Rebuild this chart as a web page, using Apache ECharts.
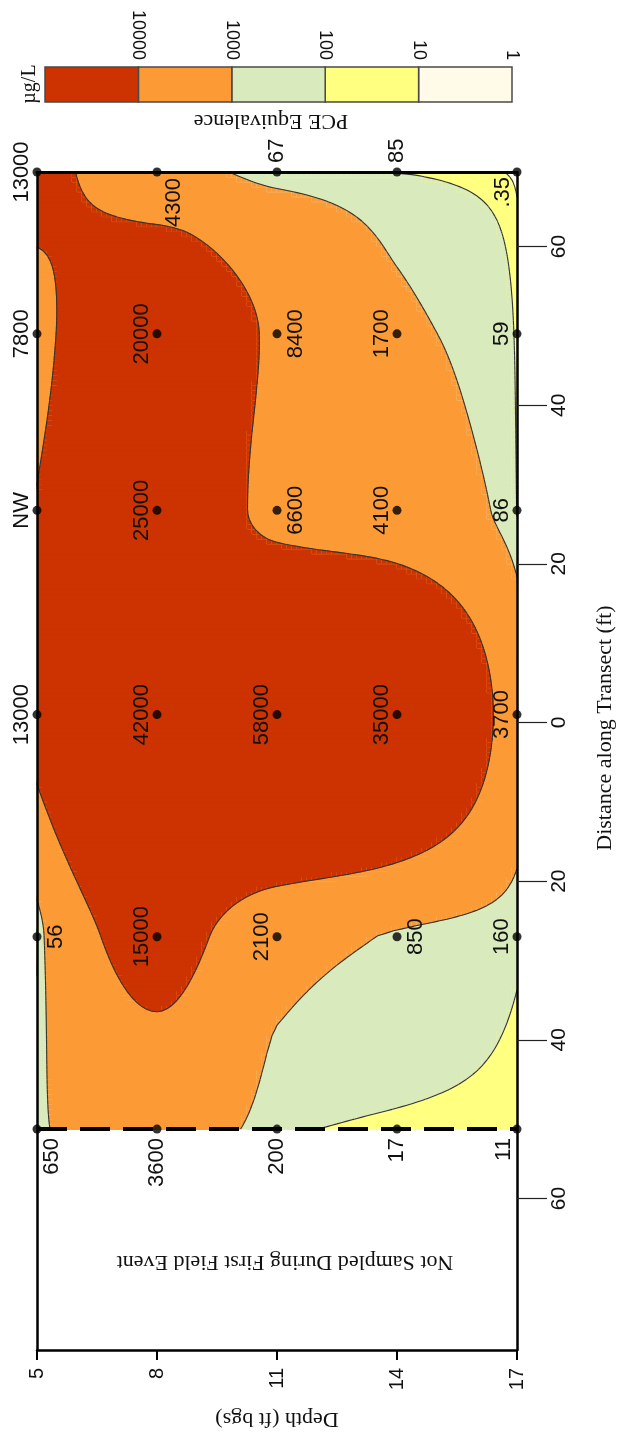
<!DOCTYPE html>
<html>
<head>
<meta charset="utf-8">
<script src="https://cdn.jsdelivr.net/npm/echarts@6/dist/echarts.min.js"></script>
<style>
  html, body { margin: 0; background: #fff; }
  #main { width: 621px; height: 1435px; }
</style>
</head>
<body>
<div id="main"></div>
<script>
// depth of each sample, ft bgs
const depths = [5, 8, 11, 14, 17];
// signed position of each sampling station along the transect, ft (page top -> bottom)
const stations = [69.4, 49, 26.75, 1, -27, -51.25];
// PCE equivalence (ug/L), one row per station, one column per depth; null = NW
const pce = [
  [13000, 4300, 67, 85, 0.35],
  [7800, 20000, 8400, 1700, 59],
  [null, 25000, 6600, 4100, 86],
  [13000, 42000, 58000, 35000, 3700],
  [56, 15000, 2100, 850, 160],
  [650, 3600, 200, 17, 11]
];
const missingText = 'NW';
// contour classes: breaks and fill colours, low -> high
const breaks = [1, 10, 100, 1000, 10000, 100000];
const classColors = ['#fffbe8', '#ffff80', '#d9eabd', '#fc9a36', '#cc3300'];
const depthTicks = [5, 8, 11, 14, 17];
const distTicks = [-60, -40, -20, 0, 20, 40, 60];
const legendTicks = [10000, 1000, 100, 10, 1];
const distBottom = -79.1; // end of the transect axis (unsampled part)

const SANS = 'Liberation Sans, Arial, sans-serif';
const SERIF = 'Liberation Serif, Times New Roman, serif';

// ---- gridding (monotone cubic, linear concentrations) ----
function pchip(xs, ys) {
  const n = xs.length, h = [], s = [], m = [];
  for (let k = 0; k < n - 1; k++) {
    h[k] = xs[k + 1] - xs[k];
    s[k] = (ys[k + 1] - ys[k]) / h[k];
  }
  m[0] = s[0];
  m[n - 1] = s[n - 2];
  for (let k = 1; k < n - 1; k++) {
    if (s[k - 1] * s[k] <= 0) m[k] = 0;
    else {
      const w1 = 2 * h[k] + h[k - 1], w2 = h[k] + 2 * h[k - 1];
      m[k] = (w1 + w2) / (w1 / s[k - 1] + w2 / s[k]);
    }
  }
  return function (x) {
    let k = 0;
    while (k < n - 2 && x > xs[k + 1]) k++;
    const t = (x - xs[k]) / h[k], t2 = t * t, t3 = t2 * t;
    return (2 * t3 - 3 * t2 + 1) * ys[k] + (t3 - 2 * t2 + t) * h[k] * m[k] +
      (-2 * t3 + 3 * t2) * ys[k + 1] + (t3 - t2) * h[k] * m[k + 1];
  };
}

// unsampled point: mean of the samples above and below it at the same depth
const gridVals = pce.map((row, i) => row.map((val, j) => {
  if (val != null) return val;
  const nb = [i > 0 ? pce[i - 1][j] : null, i < pce.length - 1 ? pce[i + 1][j] : null]
    .filter(x => x != null);
  return nb.reduce((a, b) => a + b, 0) / nb.length;
}));

const NX = 96, NY = 193;
const dLo = depths[0], dHi = depths[depths.length - 1];
const vLo = stations[stations.length - 1], vHi = stations[0];
const nodeD = [], nodeV = [];
for (let i = 0; i <= NX; i++) nodeD.push(dLo + (dHi - dLo) * i / NX);
for (let j = 0; j <= NY; j++) nodeV.push(vLo + (vHi - vLo) * j / NY);

const vAsc = stations.slice().reverse();
const colInterp = depths.map((_, j) => pchip(vAsc, gridVals.map(r => r[j]).reverse()));
const field = nodeV.map(v => {
  const rowInterp = pchip(depths, colInterp.map(f => f(v)));
  return nodeD.map(d => Math.max(0, rowInterp(d)));
});

// one item per grid row
const gridRows = [];
for (let j = 0; j < NY; j++) gridRows.push([dLo, nodeV[j], j]);

function classOf(f) {
  let c = 0;
  while (c < classColors.length - 1 && f >= breaks[c + 1]) c++;
  return c;
}

function cellRange(i, j) {
  const fs = [field[j][i], field[j][i + 1], field[j + 1][i + 1], field[j + 1][i]];
  return [classOf(Math.min(...fs)), classOf(Math.max(...fs))];
}

function corners(api, i, j) {
  return [[i, j], [i + 1, j], [i + 1, j + 1], [i, j + 1]]
    .map(([a, b]) => ({ p: api.coord([nodeD[a], nodeV[b]]), f: field[b][a] }));
}

function crossing(a, b, t) {
  const r = (t - a.f) / (b.f - a.f);
  return [a.p[0] + r * (b.p[0] - a.p[0]), a.p[1] + r * (b.p[1] - a.p[1])];
}

function renderFillRow(params, api) {
  const j = api.value(2);
  const children = [];
  let runStart = -1, runClass = -1;
  const flush = iEnd => {
    if (runStart < 0) return;
    const p0 = api.coord([nodeD[runStart], nodeV[j]]);
    const p1 = api.coord([nodeD[iEnd], nodeV[j + 1]]);
    // 1px overlap into the row below hides antialias seams
    children.push({
      type: 'rect',
      shape: { x: p0[0], y: p1[1], width: p1[0] - p0[0], height: p0[1] - p1[1] + 1 },
      style: { fill: classColors[runClass] }
    });
    runStart = -1;
  };
  for (let i = 0; i < NX; i++) {
    const [lo, hi] = cellRange(i, j);
    if (lo === hi) {
      if (runStart >= 0 && runClass === lo) continue;
      flush(i);
      runStart = i;
      runClass = lo;
      continue;
    }
    flush(i);
    const c = corners(api, i, j);
    children.push({
      type: 'polygon',
      shape: { points: c.map(o => o.p) },
      style: { fill: classColors[lo], stroke: classColors[lo], lineWidth: 0.8 }
    });
    for (let k = lo + 1; k <= hi; k++) {
      const t = breaks[k], pts = [];
      for (let e = 0; e < 4; e++) {
        const a = c[e], b = c[(e + 1) % 4];
        if (a.f >= t) pts.push(a.p);
        if ((a.f >= t) !== (b.f >= t)) pts.push(crossing(a, b, t));
      }
      if (pts.length >= 3) {
        children.push({
          type: 'polygon',
          shape: { points: pts },
          style: { fill: classColors[k], stroke: classColors[k], lineWidth: 0.8 }
        });
      }
    }
  }
  flush(NX);
  return { type: 'group', children };
}

function renderIsoRow(params, api) {
  const j = api.value(2);
  const children = [];
  for (let i = 0; i < NX; i++) {
    const [lo, hi] = cellRange(i, j);
    if (lo === hi) continue;
    const c = corners(api, i, j);
    for (let k = lo + 1; k <= hi; k++) {
      const t = breaks[k], xs = [];
      for (let e = 0; e < 4; e++) {
        const a = c[e], b = c[(e + 1) % 4];
        if ((a.f >= t) !== (b.f >= t)) xs.push(crossing(a, b, t));
      }
      let pairs = [];
      if (xs.length === 2) pairs = [[0, 1]];
      else if (xs.length === 4) pairs = c[0].f >= t ? [[0, 1], [2, 3]] : [[1, 2], [3, 0]];
      pairs.forEach(([p, q]) => children.push({
        type: 'line',
        shape: { x1: xs[p][0], y1: xs[p][1], x2: xs[q][0], y2: xs[q][1] },
        style: { stroke: '#333', lineWidth: 1.1 }
      }));
    }
  }
  return { type: 'group', children };
}

// ---- sample points and their labels ----
const samplePts = [], labelPts = [], sampleText = [];
pce.forEach((row, r) => row.forEach((val, c) => {
  samplePts.push([depths[c], stations[r]]);
  labelPts.push([depths[c], stations[r], r, c]);
  sampleText.push(val == null ? missingText : (val < 1 ? String(val).replace(/^0/, '') : String(val)));
}));

// labels sitting on the deeper side of their dot
const deepSide = ['1,2', '2,2', '4,0', '4,3'];
function labelPlace(r, c) {
  const last = depths.length - 1;
  if (r === pce.length - 1) return { dx: c === 0 ? 15 : c === last ? -13 : 0, dy: 9, align: 'right' };
  if (r === 0) {
    if (c === 0) return { dx: -15, dy: 0, align: 'center' };
    if (c === 1) return { dx: 17, dy: 6, align: 'right' };
    if (c === last) return { dx: -14, dy: 5, align: 'right' };
    return { dx: 0, dy: -9, align: 'left' };
  }
  if (deepSide.includes(r + ',' + c)) return { dx: 19, dy: 0, align: 'center' };
  return { dx: -15, dy: 0, align: 'center' };
}

function renderLabel(params, api) {
  const p = api.coord([api.value(0), api.value(1)]);
  const pl = labelPlace(api.value(2), api.value(3));
  return {
    type: 'text',
    x: p[0] + pl.dx,
    y: p[1] + pl.dy,
    rotation: Math.PI / 2,
    style: {
      text: sampleText[params.dataIndex],
      fontFamily: SANS, fontSize: 22, fill: '#111',
      align: pl.align, verticalAlign: 'middle'
    }
  };
}

// ---- legend bar (x = -log10 of the concentration, high values on the left) ----
const nlog = v => -Math.log10(v);
const legendCells = classColors.map((col, i) => [nlog(breaks[i + 1]), nlog(breaks[i]), 0, 1]);
function renderLegend(params, api) {
  const a = api.coord([api.value(0), api.value(2)]);
  const b = api.coord([api.value(1), api.value(3)]);
  return {
    type: 'rect',
    shape: { x: Math.min(a[0], b[0]), y: Math.min(a[1], b[1]), width: Math.abs(b[0] - a[0]), height: Math.abs(b[1] - a[1]) },
    style: { fill: classColors[params.dataIndex], stroke: '#4a4a4a', lineWidth: 1.5 }
  };
}

const chart = echarts.init(document.getElementById('main'));
chart.setOption({
  animation: false,
  grid: [
    { left: 37, top: 172, width: 480, height: 1188, show: false },
    { left: 45, top: 67, width: 467, height: 35, show: false }
  ],
  xAxis: [
    {
      type: 'value', gridIndex: 0, min: dLo, max: dHi, position: 'bottom', z: 10,
      name: 'Depth (ft bgs)', nameLocation: 'middle', nameGap: 58, nameRotate: 180,
      nameTextStyle: { fontFamily: SERIF, fontSize: 22, color: '#111' },
      axisLine: { onZero: false, lineStyle: { color: '#000', width: 2.5 } },
      axisTick: { length: 10, lineStyle: { color: '#000', width: 2 }, customValues: depthTicks },
      axisLabel: { rotate: 90, margin: 18, fontSize: 20, color: '#111', fontFamily: SANS, customValues: depthTicks },
      splitLine: { show: false }
    },
    {
      type: 'value', gridIndex: 0, min: dLo, max: dHi, position: 'top', z: 10,
      axisLine: { onZero: false, lineStyle: { color: '#000', width: 3 } },
      axisTick: { show: false }, axisLabel: { show: false }, splitLine: { show: false }
    },
    {
      type: 'value', gridIndex: 1, min: nlog(breaks[breaks.length - 1]), max: nlog(breaks[0]),
      position: 'top',
      axisLine: { show: false, onZero: false }, axisTick: { show: false }, splitLine: { show: false },
      axisLabel: {
        rotate: 90, margin: 7, fontSize: 18, color: '#111', fontFamily: SANS,
        customValues: legendTicks.map(nlog),
        formatter: v => String(Math.round(Math.pow(10, -v)))
      }
    }
  ],
  yAxis: [
    {
      type: 'value', gridIndex: 0, min: distBottom, max: vHi, position: 'right', z: 10,
      axisLine: { onZero: false, lineStyle: { color: '#000', width: 2.5 } },
      axisTick: { length: 30, lineStyle: { color: '#222', width: 1.2 }, customValues: distTicks },
      axisLabel: {
        rotate: 90, margin: 32, fontSize: 21, color: '#111', fontFamily: SANS,
        customValues: distTicks, formatter: v => String(Math.abs(v))
      },
      splitLine: { show: false }
    },
    {
      type: 'value', gridIndex: 0, min: distBottom, max: vHi, position: 'left', z: 10,
      axisLine: { onZero: false, lineStyle: { color: '#000', width: 2.5 } },
      axisTick: { show: false }, axisLabel: { show: false }, splitLine: { show: false }
    },
    { type: 'value', gridIndex: 1, min: 0, max: 1, show: false }
  ],
  graphic: [
    { type: 'text', x: 271, y: 121, rotation: Math.PI,
      style: { text: 'PCE Equivalence', fontFamily: SERIF, fontSize: 22, fill: '#111', align: 'center', verticalAlign: 'middle' } },
    { type: 'text', x: 30, y: 84, rotation: Math.PI / 2,
      style: { text: 'µg/L', fontFamily: SERIF, fontSize: 20, fill: '#111', align: 'center', verticalAlign: 'middle' } },
    { type: 'text', x: 285, y: 1262, rotation: Math.PI,
      style: { text: 'Not Sampled During First Field Event', fontFamily: SERIF, fontSize: 22, fill: '#111', align: 'center', verticalAlign: 'middle' } },
    { type: 'text', x: 605, y: 728, rotation: Math.PI / 2,
      style: { text: 'Distance along Transect (ft)', fontFamily: SERIF, fontSize: 22, fill: '#111', align: 'center', verticalAlign: 'middle' } }
  ],
  series: [
    {
      type: 'custom', name: 'fill', xAxisIndex: 0, yAxisIndex: 0, z: 1,
      renderItem: renderFillRow, data: gridRows, encode: { x: 0, y: 1 }, silent: true
    },
    {
      type: 'custom', name: 'isolines', xAxisIndex: 0, yAxisIndex: 0, z: 2,
      renderItem: renderIsoRow, data: gridRows, encode: { x: 0, y: 1 }, silent: true
    },
    {
      type: 'line', name: 'first event limit', xAxisIndex: 0, yAxisIndex: 0, z: 3,
      data: [[dLo, vLo], [dHi, vLo]], symbol: 'none', silent: true,
      lineStyle: { color: '#000', width: 4, type: [30, 13] }
    },
    {
      type: 'scatter', name: 'samples', xAxisIndex: 0, yAxisIndex: 0, z: 4,
      data: samplePts, symbolSize: 9, itemStyle: { color: '#000' }, silent: true
    },
    {
      type: 'custom', name: 'labels', xAxisIndex: 0, yAxisIndex: 0, z: 5,
      renderItem: renderLabel, data: labelPts, encode: { x: 0, y: 1 }, silent: true
    },
    {
      type: 'custom', name: 'legend', xAxisIndex: 2, yAxisIndex: 2, z: 2,
      renderItem: renderLegend, data: legendCells, encode: { x: [0, 1], y: [2, 3] }, silent: true
    }
  ]
});
</script>
</body>
</html>
